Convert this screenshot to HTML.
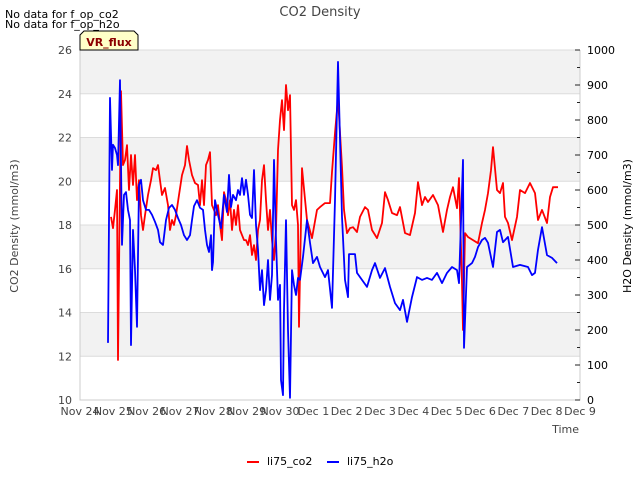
<!DOCTYPE html>
<html><head><meta charset="utf-8"><style>
body{margin:0;background:#fff;}
svg{display:block;font-family:"DejaVu Sans","Liberation Sans",sans-serif;}
</style></head><body>
<svg id="chart" width="640" height="480" viewBox="0 0 640 480" xmlns="http://www.w3.org/2000/svg">
<text x="320" y="16" text-anchor="middle" font-size="13" fill="#444">CO2 Density</text>
<text x="5" y="18" font-size="11" fill="#000">No data for f_op_co2</text>
<text x="5" y="28" font-size="11" fill="#000">No data for f_op_h2o</text>
<g id="plot"></g>
<g>
<polygon points="84,31 134,31 138,35 138,50 80,50 80,35" fill="#ffffc8" stroke="#000" stroke-width="1"/>
<text x="109" y="46" text-anchor="middle" font-size="11" font-weight="bold" fill="#8b0000">VR_flux</text>
</g>
<text transform="translate(18,226) rotate(-90)" text-anchor="middle" font-size="11" fill="#444">CO2 Density (mmol/m3)</text>
<text transform="translate(631,226) rotate(-90)" text-anchor="middle" font-size="11" fill="#000">H2O Density (mmol/m3)</text>
<text x="579" y="433" text-anchor="end" font-size="11" fill="#444">Time</text>
<g>
<g><line x1="247" y1="462" x2="259" y2="462" stroke="#f00" stroke-width="2"/><text x="267" y="465" font-size="11" fill="#000">li75_co2</text></g>
<g><line x1="327" y1="462" x2="339" y2="462" stroke="#00f" stroke-width="2"/><text x="347" y="465" font-size="11" fill="#000">li75_h2o</text></g>
</g>
</svg>
<script>
// data: days since Nov 24 00:00, values
var xTickLabels = ["Nov 24","Nov 25","Nov 26","Nov 27","Nov 28","Nov 29","Nov 30","Dec 1","Dec 2","Dec 3","Dec 4","Dec 5","Dec 6","Dec 7","Dec 8","Dec 9"];
var leftTicks = [10,12,14,16,18,20,22,24,26];
var rightTicks = [0,100,200,300,400,500,600,700,800,900,1000];
var co2Days = [0.93,0.99,1.05,1.11,1.14,1.23,1.29,1.35,1.41,1.47,1.53,1.59,1.65,1.71,1.77,1.83,1.89,1.95,2.04,2.13,2.19,2.28,2.34,2.4,2.46,2.55,2.64,2.7,2.76,2.82,2.88,2.97,3.06,3.15,3.21,3.27,3.36,3.45,3.54,3.6,3.66,3.72,3.78,3.84,3.9,3.96,4.02,4.08,4.14,4.2,4.26,4.32,4.38,4.44,4.5,4.56,4.62,4.68,4.74,4.8,4.86,4.92,4.98,5.04,5.1,5.16,5.22,5.28,5.34,5.4,5.46,5.52,5.58,5.64,5.7,5.76,5.82,5.88,5.94,6.0,6.06,6.12,6.18,6.24,6.3,6.36,6.42,6.48,6.54,6.57,6.66,6.81,6.96,7.11,7.2,7.35,7.5,7.56,7.65,7.74,7.86,7.92,8.01,8.1,8.19,8.31,8.4,8.55,8.64,8.76,8.91,9.06,9.15,9.24,9.36,9.51,9.6,9.75,9.9,10.05,10.14,10.26,10.35,10.44,10.59,10.74,10.89,11.01,11.1,11.19,11.31,11.37,11.46,11.49,11.55,11.64,11.79,11.94,12.06,12.15,12.24,12.33,12.39,12.51,12.6,12.69,12.75,12.84,12.96,13.11,13.2,13.35,13.5,13.65,13.74,13.86,14.01,14.1,14.19,14.34];
var co2Values = [18.37,17.86,18.69,19.6,11.83,24.12,20.74,20.97,21.65,19.6,21.2,19.83,21.2,19.14,20.05,18.45,17.77,18.45,19.37,20.05,20.6,20.51,20.74,20.05,19.37,19.69,18.91,17.77,18.23,18.0,18.45,19.37,20.28,20.74,21.61,20.97,20.28,19.92,19.83,18.91,20.05,18.91,20.74,20.97,21.33,18.91,18.69,18.45,18.91,18.0,17.31,19.5,19.14,18.45,19.14,17.77,18.69,18.0,18.91,17.77,17.54,17.31,17.31,17.08,17.54,16.63,17.08,16.4,17.77,18.23,20.05,20.74,19.14,17.77,18.69,17.31,16.4,17.77,21.43,22.8,23.71,22.34,24.4,23.25,23.94,18.91,18.69,19.14,18.0,13.34,20.6,18.23,17.4,18.69,18.82,19.0,19.0,20.42,22.2,23.8,20.65,18.69,17.63,17.86,17.9,17.68,18.37,18.82,18.69,17.77,17.4,18.09,19.5,19.14,18.55,18.45,18.82,17.63,17.54,18.55,19.96,18.91,19.28,19.05,19.37,18.91,17.68,18.69,19.28,19.73,18.77,20.15,15.35,13.2,17.63,17.45,17.31,17.17,18.09,18.69,19.46,20.51,21.56,19.6,19.46,19.92,18.37,18.09,17.31,18.37,19.6,19.46,19.92,19.46,18.23,18.69,18.09,19.28,19.73,19.73];
var h2oDays = [0.84,0.9,0.96,0.99,1.05,1.11,1.14,1.2,1.26,1.32,1.38,1.44,1.5,1.53,1.59,1.65,1.71,1.77,1.83,1.89,1.98,2.07,2.16,2.25,2.34,2.4,2.49,2.58,2.67,2.76,2.85,2.94,3.03,3.12,3.21,3.3,3.36,3.42,3.51,3.6,3.69,3.75,3.81,3.87,3.93,3.96,3.99,4.05,4.14,4.23,4.32,4.41,4.47,4.53,4.59,4.68,4.74,4.8,4.86,4.92,4.98,5.04,5.1,5.16,5.22,5.28,5.34,5.4,5.46,5.52,5.58,5.64,5.7,5.76,5.82,5.88,5.94,6.0,6.03,6.09,6.12,6.18,6.24,6.3,6.36,6.42,6.48,6.54,6.6,6.69,6.81,6.9,6.99,7.11,7.2,7.35,7.44,7.56,7.65,7.74,7.86,7.95,8.04,8.07,8.25,8.31,8.46,8.61,8.76,8.85,9.0,9.15,9.3,9.45,9.6,9.69,9.81,9.96,10.11,10.26,10.41,10.56,10.71,10.86,11.01,11.16,11.31,11.37,11.49,11.52,11.61,11.76,11.85,11.94,12.06,12.15,12.24,12.39,12.51,12.6,12.69,12.84,12.99,13.2,13.44,13.56,13.65,13.74,13.86,14.01,14.16,14.31];
var h2oValues = [163,863,657,729,720,700,671,914,443,586,594,543,514,157,486,371,209,614,629,571,543,543,529,509,486,451,443,514,549,557,543,520,500,471,457,471,514,554,571,549,543,486,443,423,471,371,394,571,529,491,586,537,643,551,586,571,600,586,634,586,629,586,529,520,657,500,429,314,371,271,314,400,286,357,686,457,286,329,57,14,257,514,200,6,371,329,300,349,343,409,514,449,391,409,380,351,371,263,571,966,523,343,294,417,417,363,343,323,371,391,349,377,323,277,257,286,223,294,351,343,349,343,363,334,363,380,371,334,686,149,380,391,409,437,457,463,449,380,480,486,451,466,380,386,380,357,363,429,494,414,406,391];

var X0=80,X1=580,Y0=50,Y1=400;
function xScale(d){return X0+(d/15)*(X1-X0);}
function yLeft(v){return Y1-(v-10)/16*(Y1-Y0);}
function yRight(v){return Y1-v/1000*(Y1-Y0);}
var NS="http://www.w3.org/2000/svg";
var plot=document.getElementById('plot');
function mk(tag,attrs,parent){var e=document.createElementNS(NS,tag);for(var k in attrs)e.setAttribute(k,attrs[k]);(parent||plot).appendChild(e);return e;}

for(var i=0;i<leftTicks.length-1;i++){
  if(i%2===1){
    var b=mk('rect',{x:X0,y:yLeft(leftTicks[i+1]),width:X1-X0,height:yLeft(leftTicks[i])-yLeft(leftTicks[i+1]),fill:'#f2f2f2'});
    
    
  }
}
leftTicks.forEach(function(t){
  var g=mk('line',{x1:X0,x2:X1,y1:yLeft(t),y2:yLeft(t),stroke:'#dcdcdc','stroke-width':1});
  
  
  var l=mk('text',{x:72,y:yLeft(t)+4,'text-anchor':'end','font-size':11,fill:'#444'});
  l.textContent=t;
  
  
});
var fr=mk('path',{d:'M'+X0+' '+Y0+' V'+Y1+' H'+X1+' V'+Y0,fill:'none',stroke:'#ccc','stroke-width':1});


for(var v=0;v<=1000;v+=50){
  var major=(v%100===0);
  var tk=mk('line',{x1:major?575:577,x2:580,y1:yRight(v),y2:yRight(v),stroke:'#222','stroke-width':1});
  
  
}
rightTicks.forEach(function(t){
  var l=mk('text',{x:587,y:yRight(t)+4,'font-size':11,fill:'#000'});
  l.textContent=t;
  
  
});
xTickLabels.forEach(function(t,i){
  var l=mk('text',{x:xScale(i),y:415,'text-anchor':'middle','font-size':11,fill:'#444'});
  l.textContent=t;
  
  
});
function path(days,vals,ys){var s='';for(var i=0;i<days.length;i++){s+=(i?'L':'M')+xScale(days[i]).toFixed(1)+' '+ys(vals[i]).toFixed(1);}return s;}
var pc=mk('path',{d:path(co2Days,co2Values,yLeft),fill:'none',stroke:'#f00','stroke-width':1.8,'stroke-linejoin':'round'});


var ph=mk('path',{d:path(h2oDays,h2oValues,yRight),fill:'none',stroke:'#00f','stroke-width':1.8,'stroke-linejoin':'round'});


</script>
</body></html>
